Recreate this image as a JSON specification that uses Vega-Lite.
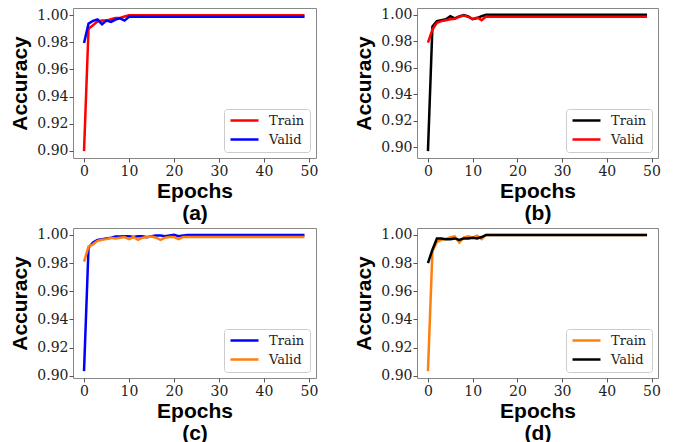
{
 "$schema": "https://vega.github.io/schema/vega-lite/v6.json",
 "padding": {"left": 9, "top": 7, "right": 5, "bottom": 0},
 "background": "white",
 "columns": 2,
 "spacing": {"row": 70, "column": 101},
 "bounds": "flush",
 "resolve": {"scale": {"color": "independent"}, "legend": {"color": "independent"}},
 "config": {
  "view": {"stroke": "#888888", "strokeWidth": 1},
  "axis": {"domain": false, "grid": false, "tickColor": "#555555", "tickSize": 4, "labelFont": "DejaVu Serif", "labelFontSize": 14, "labelColor": "#222222", "titleFont": "Liberation Sans", "titleFontWeight": "bold", "titleFontSize": 21, "titleColor": "#000000"},
  "legend": {"orient": "bottom-right", "offset": 6, "symbolType": "stroke", "symbolSize": 784, "symbolStrokeWidth": 2.5, "clipHeight": 13, "rowPadding": 5, "padding": 5, "labelFont": "DejaVu Serif", "labelFontSize": 13, "labelColor": "#222222", "labelOffset": 9, "fillColor": "rgba(255,255,255,0.8)", "strokeColor": "#cccccc", "cornerRadius": 3}
 },
 "datasets": {
  "a": [
   {"epoch":0,"series":"Train","acc":0.8998},{"epoch":1,"series":"Train","acc":0.990},{"epoch":2,"series":"Train","acc":0.9925},{"epoch":3,"series":"Train","acc":0.9955},{"epoch":4,"series":"Train","acc":0.996},{"epoch":5,"series":"Train","acc":0.996},{"epoch":6,"series":"Train","acc":0.997},{"epoch":7,"series":"Train","acc":0.998},{"epoch":8,"series":"Train","acc":0.998},{"epoch":9,"series":"Train","acc":0.999},
   {"epoch":10,"series":"Train","acc":1.0},{"epoch":11,"series":"Train","acc":1.0},{"epoch":12,"series":"Train","acc":1.0},{"epoch":13,"series":"Train","acc":1.0},{"epoch":14,"series":"Train","acc":1.0},{"epoch":15,"series":"Train","acc":1.0},{"epoch":16,"series":"Train","acc":1.0},{"epoch":17,"series":"Train","acc":1.0},{"epoch":18,"series":"Train","acc":1.0},{"epoch":19,"series":"Train","acc":1.0},
   {"epoch":20,"series":"Train","acc":1.0},{"epoch":21,"series":"Train","acc":1.0},{"epoch":22,"series":"Train","acc":1.0},{"epoch":23,"series":"Train","acc":1.0},{"epoch":24,"series":"Train","acc":1.0},{"epoch":25,"series":"Train","acc":1.0},{"epoch":26,"series":"Train","acc":1.0},{"epoch":27,"series":"Train","acc":1.0},{"epoch":28,"series":"Train","acc":1.0},{"epoch":29,"series":"Train","acc":1.0},
   {"epoch":30,"series":"Train","acc":1.0},{"epoch":31,"series":"Train","acc":1.0},{"epoch":32,"series":"Train","acc":1.0},{"epoch":33,"series":"Train","acc":1.0},{"epoch":34,"series":"Train","acc":1.0},{"epoch":35,"series":"Train","acc":1.0},{"epoch":36,"series":"Train","acc":1.0},{"epoch":37,"series":"Train","acc":1.0},{"epoch":38,"series":"Train","acc":1.0},{"epoch":39,"series":"Train","acc":1.0},
   {"epoch":40,"series":"Train","acc":1.0},{"epoch":41,"series":"Train","acc":1.0},{"epoch":42,"series":"Train","acc":1.0},{"epoch":43,"series":"Train","acc":1.0},{"epoch":44,"series":"Train","acc":1.0},{"epoch":45,"series":"Train","acc":1.0},{"epoch":46,"series":"Train","acc":1.0},{"epoch":47,"series":"Train","acc":1.0},{"epoch":48,"series":"Train","acc":1.0},{"epoch":49,"series":"Train","acc":1.0},
   {"epoch":0,"series":"Valid","acc":0.9795},{"epoch":1,"series":"Valid","acc":0.9938},{"epoch":2,"series":"Valid","acc":0.9958},{"epoch":3,"series":"Valid","acc":0.9968},{"epoch":4,"series":"Valid","acc":0.9933},{"epoch":5,"series":"Valid","acc":0.996},{"epoch":6,"series":"Valid","acc":0.995},{"epoch":7,"series":"Valid","acc":0.9968},{"epoch":8,"series":"Valid","acc":0.9977},{"epoch":9,"series":"Valid","acc":0.996},
   {"epoch":10,"series":"Valid","acc":0.9988},{"epoch":11,"series":"Valid","acc":0.9988},{"epoch":12,"series":"Valid","acc":0.9988},{"epoch":13,"series":"Valid","acc":0.9988},{"epoch":14,"series":"Valid","acc":0.9988},{"epoch":15,"series":"Valid","acc":0.9988},{"epoch":16,"series":"Valid","acc":0.9988},{"epoch":17,"series":"Valid","acc":0.9988},{"epoch":18,"series":"Valid","acc":0.9988},{"epoch":19,"series":"Valid","acc":0.9988},
   {"epoch":20,"series":"Valid","acc":0.9988},{"epoch":21,"series":"Valid","acc":0.9988},{"epoch":22,"series":"Valid","acc":0.9988},{"epoch":23,"series":"Valid","acc":0.9988},{"epoch":24,"series":"Valid","acc":0.9988},{"epoch":25,"series":"Valid","acc":0.9988},{"epoch":26,"series":"Valid","acc":0.9988},{"epoch":27,"series":"Valid","acc":0.9988},{"epoch":28,"series":"Valid","acc":0.9988},{"epoch":29,"series":"Valid","acc":0.9988},
   {"epoch":30,"series":"Valid","acc":0.9988},{"epoch":31,"series":"Valid","acc":0.9988},{"epoch":32,"series":"Valid","acc":0.9988},{"epoch":33,"series":"Valid","acc":0.9988},{"epoch":34,"series":"Valid","acc":0.9988},{"epoch":35,"series":"Valid","acc":0.9988},{"epoch":36,"series":"Valid","acc":0.9988},{"epoch":37,"series":"Valid","acc":0.9988},{"epoch":38,"series":"Valid","acc":0.9988},{"epoch":39,"series":"Valid","acc":0.9988},
   {"epoch":40,"series":"Valid","acc":0.9988},{"epoch":41,"series":"Valid","acc":0.9988},{"epoch":42,"series":"Valid","acc":0.9988},{"epoch":43,"series":"Valid","acc":0.9988},{"epoch":44,"series":"Valid","acc":0.9988},{"epoch":45,"series":"Valid","acc":0.9988},{"epoch":46,"series":"Valid","acc":0.9988},{"epoch":47,"series":"Valid","acc":0.9988},{"epoch":48,"series":"Valid","acc":0.9988},{"epoch":49,"series":"Valid","acc":0.9988}
  ],
  "b": [
   {"epoch":0,"series":"Train","acc":0.8969},{"epoch":1,"series":"Train","acc":0.9913},{"epoch":2,"series":"Train","acc":0.9953},{"epoch":3,"series":"Train","acc":0.996},{"epoch":4,"series":"Train","acc":0.9967},{"epoch":5,"series":"Train","acc":0.999},{"epoch":6,"series":"Train","acc":0.9973},{"epoch":7,"series":"Train","acc":0.9988},{"epoch":8,"series":"Train","acc":0.9998},{"epoch":9,"series":"Train","acc":0.9988},
   {"epoch":10,"series":"Train","acc":0.9967},{"epoch":11,"series":"Train","acc":0.9975},{"epoch":12,"series":"Train","acc":0.999},{"epoch":13,"series":"Train","acc":1.0},{"epoch":14,"series":"Train","acc":1.0},{"epoch":15,"series":"Train","acc":1.0},{"epoch":16,"series":"Train","acc":1.0},{"epoch":17,"series":"Train","acc":1.0},{"epoch":18,"series":"Train","acc":1.0},{"epoch":19,"series":"Train","acc":1.0},
   {"epoch":20,"series":"Train","acc":1.0},{"epoch":21,"series":"Train","acc":1.0},{"epoch":22,"series":"Train","acc":1.0},{"epoch":23,"series":"Train","acc":1.0},{"epoch":24,"series":"Train","acc":1.0},{"epoch":25,"series":"Train","acc":1.0},{"epoch":26,"series":"Train","acc":1.0},{"epoch":27,"series":"Train","acc":1.0},{"epoch":28,"series":"Train","acc":1.0},{"epoch":29,"series":"Train","acc":1.0},
   {"epoch":30,"series":"Train","acc":1.0},{"epoch":31,"series":"Train","acc":1.0},{"epoch":32,"series":"Train","acc":1.0},{"epoch":33,"series":"Train","acc":1.0},{"epoch":34,"series":"Train","acc":1.0},{"epoch":35,"series":"Train","acc":1.0},{"epoch":36,"series":"Train","acc":1.0},{"epoch":37,"series":"Train","acc":1.0},{"epoch":38,"series":"Train","acc":1.0},{"epoch":39,"series":"Train","acc":1.0},
   {"epoch":40,"series":"Train","acc":1.0},{"epoch":41,"series":"Train","acc":1.0},{"epoch":42,"series":"Train","acc":1.0},{"epoch":43,"series":"Train","acc":1.0},{"epoch":44,"series":"Train","acc":1.0},{"epoch":45,"series":"Train","acc":1.0},{"epoch":46,"series":"Train","acc":1.0},{"epoch":47,"series":"Train","acc":1.0},{"epoch":48,"series":"Train","acc":1.0},{"epoch":49,"series":"Train","acc":1.0},
   {"epoch":0,"series":"Valid","acc":0.979},{"epoch":1,"series":"Valid","acc":0.9889},{"epoch":2,"series":"Valid","acc":0.994},{"epoch":3,"series":"Valid","acc":0.9953},{"epoch":4,"series":"Valid","acc":0.996},{"epoch":5,"series":"Valid","acc":0.9967},{"epoch":6,"series":"Valid","acc":0.997},{"epoch":7,"series":"Valid","acc":0.9985},{"epoch":8,"series":"Valid","acc":0.9995},{"epoch":9,"series":"Valid","acc":0.9985},
   {"epoch":10,"series":"Valid","acc":0.997},{"epoch":11,"series":"Valid","acc":0.998},{"epoch":12,"series":"Valid","acc":0.996},{"epoch":13,"series":"Valid","acc":0.9988},{"epoch":14,"series":"Valid","acc":0.9985},{"epoch":15,"series":"Valid","acc":0.9985},{"epoch":16,"series":"Valid","acc":0.9985},{"epoch":17,"series":"Valid","acc":0.9985},{"epoch":18,"series":"Valid","acc":0.9985},{"epoch":19,"series":"Valid","acc":0.9985},
   {"epoch":20,"series":"Valid","acc":0.9985},{"epoch":21,"series":"Valid","acc":0.9985},{"epoch":22,"series":"Valid","acc":0.9985},{"epoch":23,"series":"Valid","acc":0.9985},{"epoch":24,"series":"Valid","acc":0.9985},{"epoch":25,"series":"Valid","acc":0.9985},{"epoch":26,"series":"Valid","acc":0.9985},{"epoch":27,"series":"Valid","acc":0.9985},{"epoch":28,"series":"Valid","acc":0.9985},{"epoch":29,"series":"Valid","acc":0.9985},
   {"epoch":30,"series":"Valid","acc":0.9985},{"epoch":31,"series":"Valid","acc":0.9985},{"epoch":32,"series":"Valid","acc":0.9985},{"epoch":33,"series":"Valid","acc":0.9985},{"epoch":34,"series":"Valid","acc":0.9985},{"epoch":35,"series":"Valid","acc":0.9985},{"epoch":36,"series":"Valid","acc":0.9985},{"epoch":37,"series":"Valid","acc":0.9985},{"epoch":38,"series":"Valid","acc":0.9985},{"epoch":39,"series":"Valid","acc":0.9985},
   {"epoch":40,"series":"Valid","acc":0.9985},{"epoch":41,"series":"Valid","acc":0.9985},{"epoch":42,"series":"Valid","acc":0.9985},{"epoch":43,"series":"Valid","acc":0.9985},{"epoch":44,"series":"Valid","acc":0.9985},{"epoch":45,"series":"Valid","acc":0.9985},{"epoch":46,"series":"Valid","acc":0.9985},{"epoch":47,"series":"Valid","acc":0.9985},{"epoch":48,"series":"Valid","acc":0.9985},{"epoch":49,"series":"Valid","acc":0.9985}
  ],
  "c": [
   {"epoch":0,"series":"Train","acc":0.9033},{"epoch":1,"series":"Train","acc":0.9909},{"epoch":2,"series":"Train","acc":0.9946},{"epoch":3,"series":"Train","acc":0.9965},{"epoch":4,"series":"Train","acc":0.997},{"epoch":5,"series":"Train","acc":0.9975},{"epoch":6,"series":"Train","acc":0.998},{"epoch":7,"series":"Train","acc":0.9988},{"epoch":8,"series":"Train","acc":0.9988},{"epoch":9,"series":"Train","acc":0.999},
   {"epoch":10,"series":"Train","acc":0.999},{"epoch":11,"series":"Train","acc":0.9985},{"epoch":12,"series":"Train","acc":0.999},{"epoch":13,"series":"Train","acc":0.999},{"epoch":14,"series":"Train","acc":0.9983},{"epoch":15,"series":"Train","acc":0.999},{"epoch":16,"series":"Train","acc":0.9995},{"epoch":17,"series":"Train","acc":0.9995},{"epoch":18,"series":"Train","acc":0.999},{"epoch":19,"series":"Train","acc":0.9995},
   {"epoch":20,"series":"Train","acc":1.0},{"epoch":21,"series":"Train","acc":0.999},{"epoch":22,"series":"Train","acc":0.9995},{"epoch":23,"series":"Train","acc":1.0},{"epoch":24,"series":"Train","acc":1.0},{"epoch":25,"series":"Train","acc":1.0},{"epoch":26,"series":"Train","acc":1.0},{"epoch":27,"series":"Train","acc":1.0},{"epoch":28,"series":"Train","acc":1.0},{"epoch":29,"series":"Train","acc":1.0},
   {"epoch":30,"series":"Train","acc":1.0},{"epoch":31,"series":"Train","acc":1.0},{"epoch":32,"series":"Train","acc":1.0},{"epoch":33,"series":"Train","acc":1.0},{"epoch":34,"series":"Train","acc":1.0},{"epoch":35,"series":"Train","acc":1.0},{"epoch":36,"series":"Train","acc":1.0},{"epoch":37,"series":"Train","acc":1.0},{"epoch":38,"series":"Train","acc":1.0},{"epoch":39,"series":"Train","acc":1.0},
   {"epoch":40,"series":"Train","acc":1.0},{"epoch":41,"series":"Train","acc":1.0},{"epoch":42,"series":"Train","acc":1.0},{"epoch":43,"series":"Train","acc":1.0},{"epoch":44,"series":"Train","acc":1.0},{"epoch":45,"series":"Train","acc":1.0},{"epoch":46,"series":"Train","acc":1.0},{"epoch":47,"series":"Train","acc":1.0},{"epoch":48,"series":"Train","acc":1.0},{"epoch":49,"series":"Train","acc":1.0},
   {"epoch":0,"series":"Valid","acc":0.981},{"epoch":1,"series":"Valid","acc":0.9916},{"epoch":2,"series":"Valid","acc":0.9933},{"epoch":3,"series":"Valid","acc":0.9958},{"epoch":4,"series":"Valid","acc":0.9965},{"epoch":5,"series":"Valid","acc":0.997},{"epoch":6,"series":"Valid","acc":0.998},{"epoch":7,"series":"Valid","acc":0.9975},{"epoch":8,"series":"Valid","acc":0.998},{"epoch":9,"series":"Valid","acc":0.9985},
   {"epoch":10,"series":"Valid","acc":0.997},{"epoch":11,"series":"Valid","acc":0.9985},{"epoch":12,"series":"Valid","acc":0.9965},{"epoch":13,"series":"Valid","acc":0.998},{"epoch":14,"series":"Valid","acc":0.9985},{"epoch":15,"series":"Valid","acc":0.9988},{"epoch":16,"series":"Valid","acc":0.998},{"epoch":17,"series":"Valid","acc":0.9965},{"epoch":18,"series":"Valid","acc":0.998},{"epoch":19,"series":"Valid","acc":0.9985},
   {"epoch":20,"series":"Valid","acc":0.9985},{"epoch":21,"series":"Valid","acc":0.997},{"epoch":22,"series":"Valid","acc":0.9985},{"epoch":23,"series":"Valid","acc":0.9985},{"epoch":24,"series":"Valid","acc":0.9985},{"epoch":25,"series":"Valid","acc":0.9985},{"epoch":26,"series":"Valid","acc":0.9985},{"epoch":27,"series":"Valid","acc":0.9985},{"epoch":28,"series":"Valid","acc":0.9985},{"epoch":29,"series":"Valid","acc":0.9985},
   {"epoch":30,"series":"Valid","acc":0.9985},{"epoch":31,"series":"Valid","acc":0.9985},{"epoch":32,"series":"Valid","acc":0.9985},{"epoch":33,"series":"Valid","acc":0.9985},{"epoch":34,"series":"Valid","acc":0.9985},{"epoch":35,"series":"Valid","acc":0.9985},{"epoch":36,"series":"Valid","acc":0.9985},{"epoch":37,"series":"Valid","acc":0.9985},{"epoch":38,"series":"Valid","acc":0.9985},{"epoch":39,"series":"Valid","acc":0.9985},
   {"epoch":40,"series":"Valid","acc":0.9985},{"epoch":41,"series":"Valid","acc":0.9985},{"epoch":42,"series":"Valid","acc":0.9985},{"epoch":43,"series":"Valid","acc":0.9985},{"epoch":44,"series":"Valid","acc":0.9985},{"epoch":45,"series":"Valid","acc":0.9985},{"epoch":46,"series":"Valid","acc":0.9985},{"epoch":47,"series":"Valid","acc":0.9985},{"epoch":48,"series":"Valid","acc":0.9985},{"epoch":49,"series":"Valid","acc":0.9985}
  ],
  "d": [
   {"epoch":0,"series":"Train","acc":0.9033},{"epoch":1,"series":"Train","acc":0.9884},{"epoch":2,"series":"Train","acc":0.995},{"epoch":3,"series":"Train","acc":0.9965},{"epoch":4,"series":"Train","acc":0.997},{"epoch":5,"series":"Train","acc":0.9983},{"epoch":6,"series":"Train","acc":0.999},{"epoch":7,"series":"Train","acc":0.9946},{"epoch":8,"series":"Train","acc":0.998},{"epoch":9,"series":"Train","acc":0.999},
   {"epoch":10,"series":"Train","acc":0.998},{"epoch":11,"series":"Train","acc":0.9995},{"epoch":12,"series":"Train","acc":0.997},{"epoch":13,"series":"Train","acc":1.0},{"epoch":14,"series":"Train","acc":1.0},{"epoch":15,"series":"Train","acc":1.0},{"epoch":16,"series":"Train","acc":1.0},{"epoch":17,"series":"Train","acc":1.0},{"epoch":18,"series":"Train","acc":1.0},{"epoch":19,"series":"Train","acc":1.0},
   {"epoch":20,"series":"Train","acc":1.0},{"epoch":21,"series":"Train","acc":1.0},{"epoch":22,"series":"Train","acc":1.0},{"epoch":23,"series":"Train","acc":1.0},{"epoch":24,"series":"Train","acc":1.0},{"epoch":25,"series":"Train","acc":1.0},{"epoch":26,"series":"Train","acc":1.0},{"epoch":27,"series":"Train","acc":1.0},{"epoch":28,"series":"Train","acc":1.0},{"epoch":29,"series":"Train","acc":1.0},
   {"epoch":30,"series":"Train","acc":1.0},{"epoch":31,"series":"Train","acc":1.0},{"epoch":32,"series":"Train","acc":1.0},{"epoch":33,"series":"Train","acc":1.0},{"epoch":34,"series":"Train","acc":1.0},{"epoch":35,"series":"Train","acc":1.0},{"epoch":36,"series":"Train","acc":1.0},{"epoch":37,"series":"Train","acc":1.0},{"epoch":38,"series":"Train","acc":1.0},{"epoch":39,"series":"Train","acc":1.0},
   {"epoch":40,"series":"Train","acc":1.0},{"epoch":41,"series":"Train","acc":1.0},{"epoch":42,"series":"Train","acc":1.0},{"epoch":43,"series":"Train","acc":1.0},{"epoch":44,"series":"Train","acc":1.0},{"epoch":45,"series":"Train","acc":1.0},{"epoch":46,"series":"Train","acc":1.0},{"epoch":47,"series":"Train","acc":1.0},{"epoch":48,"series":"Train","acc":1.0},{"epoch":49,"series":"Train","acc":1.0},
   {"epoch":0,"series":"Valid","acc":0.980},{"epoch":1,"series":"Valid","acc":0.9895},{"epoch":2,"series":"Valid","acc":0.9975},{"epoch":3,"series":"Valid","acc":0.9975},{"epoch":4,"series":"Valid","acc":0.997},{"epoch":5,"series":"Valid","acc":0.997},{"epoch":6,"series":"Valid","acc":0.9975},{"epoch":7,"series":"Valid","acc":0.9965},{"epoch":8,"series":"Valid","acc":0.9975},{"epoch":9,"series":"Valid","acc":0.9975},
   {"epoch":10,"series":"Valid","acc":0.998},{"epoch":11,"series":"Valid","acc":0.9975},{"epoch":12,"series":"Valid","acc":0.9985},{"epoch":13,"series":"Valid","acc":1.0},{"epoch":14,"series":"Valid","acc":1.0},{"epoch":15,"series":"Valid","acc":1.0},{"epoch":16,"series":"Valid","acc":1.0},{"epoch":17,"series":"Valid","acc":1.0},{"epoch":18,"series":"Valid","acc":1.0},{"epoch":19,"series":"Valid","acc":1.0},
   {"epoch":20,"series":"Valid","acc":1.0},{"epoch":21,"series":"Valid","acc":1.0},{"epoch":22,"series":"Valid","acc":1.0},{"epoch":23,"series":"Valid","acc":1.0},{"epoch":24,"series":"Valid","acc":1.0},{"epoch":25,"series":"Valid","acc":1.0},{"epoch":26,"series":"Valid","acc":1.0},{"epoch":27,"series":"Valid","acc":1.0},{"epoch":28,"series":"Valid","acc":1.0},{"epoch":29,"series":"Valid","acc":1.0},
   {"epoch":30,"series":"Valid","acc":1.0},{"epoch":31,"series":"Valid","acc":1.0},{"epoch":32,"series":"Valid","acc":1.0},{"epoch":33,"series":"Valid","acc":1.0},{"epoch":34,"series":"Valid","acc":1.0},{"epoch":35,"series":"Valid","acc":1.0},{"epoch":36,"series":"Valid","acc":1.0},{"epoch":37,"series":"Valid","acc":1.0},{"epoch":38,"series":"Valid","acc":1.0},{"epoch":39,"series":"Valid","acc":1.0},
   {"epoch":40,"series":"Valid","acc":1.0},{"epoch":41,"series":"Valid","acc":1.0},{"epoch":42,"series":"Valid","acc":1.0},{"epoch":43,"series":"Valid","acc":1.0},{"epoch":44,"series":"Valid","acc":1.0},{"epoch":45,"series":"Valid","acc":1.0},{"epoch":46,"series":"Valid","acc":1.0},{"epoch":47,"series":"Valid","acc":1.0},{"epoch":48,"series":"Valid","acc":1.0},{"epoch":49,"series":"Valid","acc":1.0}
  ]
 },
 "concat": [
  {
   "width": 243, "height": 150,
   "data": {"name": "a"},
   "mark": {"type": "line", "strokeWidth": 2.5},
   "encoding": {
    "x": {"field": "epoch", "type": "quantitative", "scale": {"domain": [-2.45, 51.55], "nice": false, "zero": false}, "axis": {"values": [0,10,20,30,40,50], "title": ["Epochs", "(a)"], "titleLineHeight": 22, "labelPadding": 2, "titlePadding": 2}},
    "y": {"field": "acc", "type": "quantitative", "scale": {"domain": [0.8947, 1.0053], "nice": false, "zero": false}, "axis": {"values": [0.90,0.92,0.94,0.96,0.98,1.00], "format": ".2f", "title": "Accuracy", "labelPadding": 1, "titlePadding": 6}},
    "color": {"field": "series", "type": "nominal", "scale": {"domain": ["Train","Valid"], "range": ["#ff0000","#0000ff"]}, "legend": {"title": null}}
   }
  },
  {
   "width": 241, "height": 150,
   "data": {"name": "b"},
   "mark": {"type": "line", "strokeWidth": 2.5},
   "encoding": {
    "x": {"field": "epoch", "type": "quantitative", "scale": {"domain": [-2.45, 51.45], "nice": false, "zero": false}, "axis": {"values": [0,10,20,30,40,50], "title": ["Epochs", "(b)"], "titleLineHeight": 22, "labelPadding": 2, "titlePadding": 2}},
    "y": {"field": "acc", "type": "quantitative", "scale": {"domain": [0.8917, 1.0052], "nice": false, "zero": false}, "axis": {"values": [0.90,0.92,0.94,0.96,0.98,1.00], "format": ".2f", "title": "Accuracy", "labelPadding": 1, "titlePadding": 6}},
    "color": {"field": "series", "type": "nominal", "scale": {"domain": ["Train","Valid"], "range": ["#000000","#ff0000"]}, "legend": {"title": null}}
   }
  },
  {
   "width": 243, "height": 150,
   "data": {"name": "c"},
   "mark": {"type": "line", "strokeWidth": 2.5},
   "encoding": {
    "x": {"field": "epoch", "type": "quantitative", "scale": {"domain": [-2.45, 51.55], "nice": false, "zero": false}, "axis": {"values": [0,10,20,30,40,50], "title": ["Epochs", "(c)"], "titleLineHeight": 22, "labelPadding": 2, "titlePadding": 2}},
    "y": {"field": "acc", "type": "quantitative", "scale": {"domain": [0.8984, 1.0049], "nice": false, "zero": false}, "axis": {"values": [0.90,0.92,0.94,0.96,0.98,1.00], "format": ".2f", "title": "Accuracy", "labelPadding": 1, "titlePadding": 6}},
    "color": {"field": "series", "type": "nominal", "scale": {"domain": ["Train","Valid"], "range": ["#0000ff","#ff7f0e"]}, "legend": {"title": null}}
   }
  },
  {
   "width": 241, "height": 150,
   "data": {"name": "d"},
   "mark": {"type": "line", "strokeWidth": 2.5},
   "encoding": {
    "x": {"field": "epoch", "type": "quantitative", "scale": {"domain": [-2.45, 51.45], "nice": false, "zero": false}, "axis": {"values": [0,10,20,30,40,50], "title": ["Epochs", "(d)"], "titleLineHeight": 22, "labelPadding": 2, "titlePadding": 2}},
    "y": {"field": "acc", "type": "quantitative", "scale": {"domain": [0.8984, 1.0049], "nice": false, "zero": false}, "axis": {"values": [0.90,0.92,0.94,0.96,0.98,1.00], "format": ".2f", "title": "Accuracy", "labelPadding": 1, "titlePadding": 6}},
    "color": {"field": "series", "type": "nominal", "scale": {"domain": ["Train","Valid"], "range": ["#ff7f0e","#000000"]}, "legend": {"title": null}}
   }
  }
 ]
}
